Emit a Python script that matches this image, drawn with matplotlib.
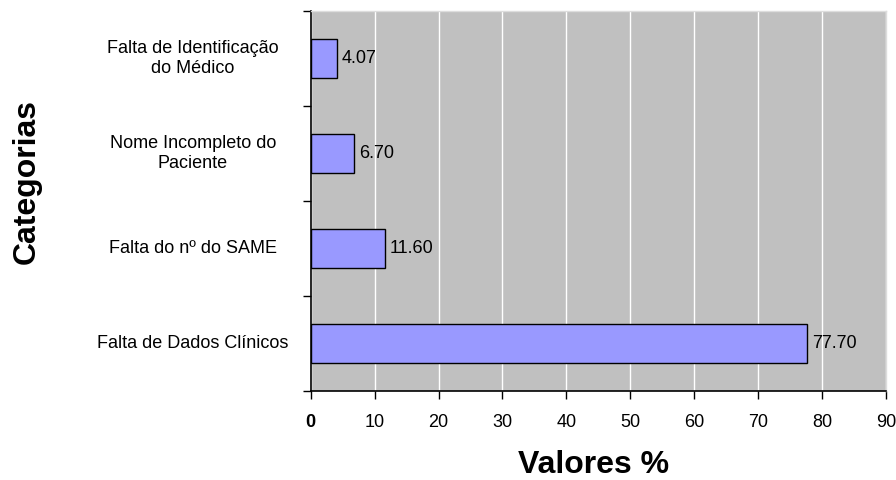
import matplotlib
matplotlib.use("Agg")
import matplotlib.pyplot as plt
from matplotlib.transforms import blended_transform_factory

plt.rcParams['font.family'] = ['Liberation Sans', 'DejaVu Sans']

categories = ["Falta de Dados Clínicos", "Falta do nº do SAME",
              "Nome Incompleto do\nPaciente", "Falta de Identificação\ndo Médico"]
values = [77.70, 11.60, 6.70, 4.07]
value_labels = ["77.70", "11.60", "6.70", "4.07"]
xticks = [0, 10, 20, 30, 40, 50, 60, 70, 80, 90]

fig = plt.figure(figsize=(8.96, 4.8), dpi=100)
ax = fig.add_axes([310.7/896, 1-390.7/480, (886-310.7)/896, (390.7-11)/480])
ax.set_facecolor('#C0C0C0')

ypos = list(range(len(categories)))
ax.barh(ypos, values, height=0.41, color='#9999FF', edgecolor='black', linewidth=1, zorder=3)
for y, v, lab in zip(ypos, values, value_labels):
    ax.text(v + 0.8, y, lab, va='center', ha='left', fontsize=13, zorder=4)

ax.set_xlim(0, 90)
ax.set_ylim(-0.5, len(categories) - 0.5)
ax.set_xticks(xticks)
ax.set_xticklabels([str(t) for t in xticks], fontsize=13)
ax.get_xticklabels()[0].set_fontweight('bold')
ax.set_yticks([i - 0.5 for i in range(len(categories) + 1)])
ax.set_yticklabels([])
ax.tick_params(axis='both', direction='out', length=6, width=1, color='black')
ax.tick_params(axis='x', pad=11)
ax.grid(axis='x', color='white', linewidth=1, zorder=1)
ax.set_axisbelow(True)

for s in ['left', 'bottom']:
    ax.spines[s].set_color('black')
    ax.spines[s].set_linewidth(1.2)
for s in ['top', 'right']:
    ax.spines[s].set_color('#DDDDDD')
    ax.spines[s].set_linewidth(1)

trans = blended_transform_factory(fig.transFigure, ax.transData)
for y, c in zip(ypos, categories):
    fig.text(193/896, y, c, transform=trans, ha='center', va='center',
             multialignment='center', fontsize=13, linespacing=1.25)

fig.text(35/896, 1-181/480, "Categorias", rotation=90, rotation_mode='anchor',
         ha='center', va='baseline', fontsize=23, fontweight='bold')
fig.text(594/896, 1-473/480, "Valores %", ha='center', va='baseline',
         fontsize=23, fontweight='bold')

fig.savefig("out.png", dpi=100)
